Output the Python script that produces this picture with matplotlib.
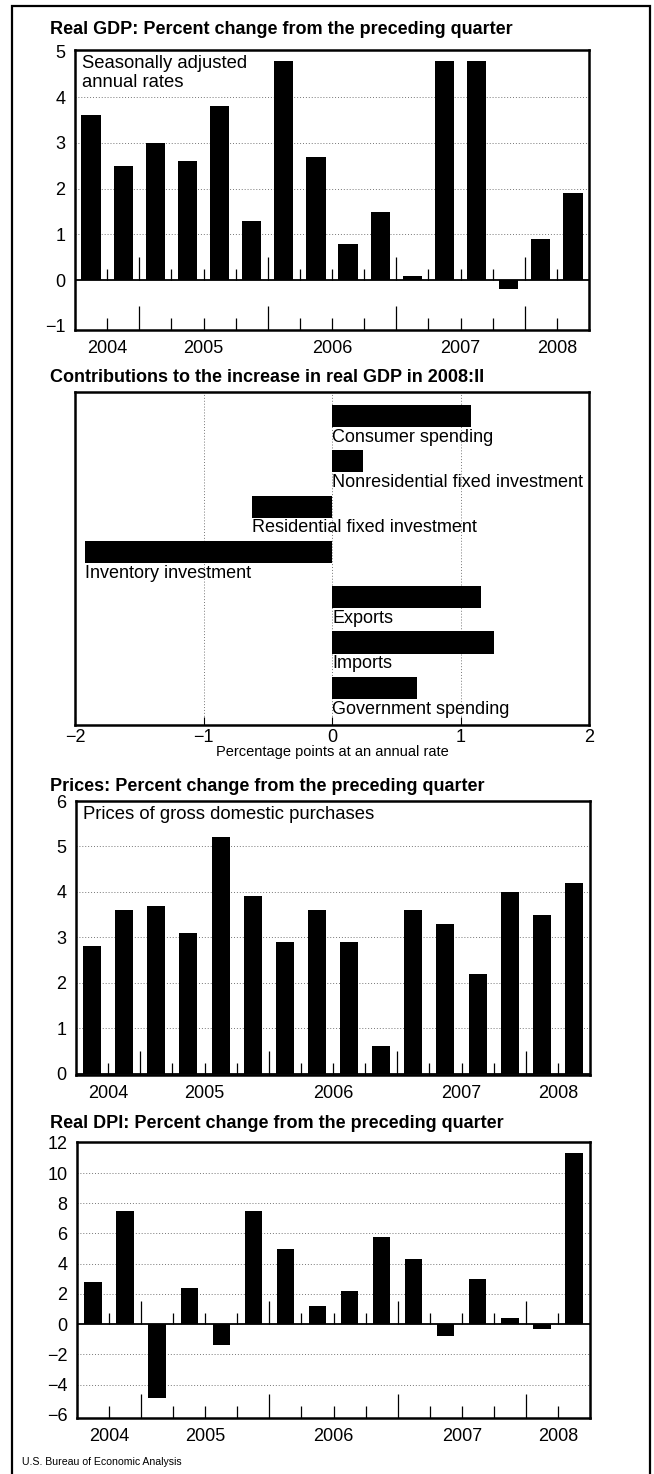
import numpy as np
import matplotlib
matplotlib.use("Agg")
import matplotlib.pyplot as plt
from matplotlib.patches import Rectangle

# quarters shown in the three time-series panels
quarters = ["2004Q3", "2004Q4", "2005Q1", "2005Q2", "2005Q3", "2005Q4",
            "2006Q1", "2006Q2", "2006Q3", "2006Q4", "2007Q1", "2007Q2",
            "2007Q3", "2007Q4", "2008Q1", "2008Q2"]
gdp = [3.6, 2.5, 3.0, 2.6, 3.8, 1.3, 4.8, 2.7, 0.8, 1.5, 0.1, 4.8, 4.8, -0.2, 0.9, 1.9]
prices = [2.8, 3.6, 3.7, 3.1, 5.2, 3.9, 2.9, 3.6, 2.9, 0.6, 3.6, 3.3, 2.2, 4.0, 3.5, 4.2]
dpi = [2.8, 7.5, -4.9, 2.4, -1.4, 7.5, 5.0, 1.2, 2.2, 5.8, 4.3, -0.8, 3.0, 0.4, -0.3, 11.3]

contrib_labels = ["Consumer spending", "Nonresidential fixed investment",
                  "Residential fixed investment", "Inventory investment",
                  "Exports", "Imports", "Government spending"]
contrib = [1.08, 0.24, -0.62, -1.92, 1.16, 1.26, 0.66]

W, H = 654, 1474
plt.rcParams["font.family"] = ["Liberation Sans", "DejaVu Sans"]

fig = plt.figure(figsize=(W / 100, H / 100), dpi=100)


def box(l, t, r, b):
    return [l / W, 1 - b / H, (r - l) / W, (b - t) / H]


def title(x, y, s):
    fig.text(x / W, 1 - y / H, s, fontsize=13, fontweight="bold",
             va="center", ha="left")


# outer frame
fig.patches.append(Rectangle((12 / W, -0.01), 638 / W, 1 - 6 / H + 0.01,
                             transform=fig.transFigure, fill=False,
                             lw=1.6, ec="black"))

years = [q[:4] for q in quarters]
xpos = np.arange(len(quarters))
bounds = xpos[:-1] + 0.5
tall = [years[i] != years[i + 1] for i in range(len(quarters) - 1)]
year_names = sorted(set(years))
year_centers = [xpos[[y == yr for y in years]].mean() for yr in year_names]


def series_panel(rect, vals, ylim, yticks, grid, width, px_per_unit, zero_ticks, note, note_y):
    ax = fig.add_axes(rect)
    ax.bar(xpos, vals, width=width, color="black", zorder=3)
    ax.set_xlim(-0.5, len(quarters) - 0.5)
    ax.set_ylim(*ylim)
    ax.set_yticks(yticks)
    ax.set_yticklabels([str(v).replace("-", "\u2212") for v in yticks])
    for g in grid:
        ax.axhline(g, color="#777777", lw=0.7, ls=(0, (1, 2)), zorder=1)
    short_h, tall_h = 12 / px_per_unit, 24 / px_per_unit
    for b, t in zip(bounds, tall):
        h = tall_h if t else short_h
        ax.vlines(b, ylim[0], ylim[0] + h, color="black", lw=0.9, zorder=2)
        if zero_ticks:
            ax.vlines(b, 0, h * 0.95, color="black", lw=0.9, zorder=2)
    if ylim[0] < 0:
        ax.axhline(0, color="black", lw=1.3, zorder=4)
    ax.set_xticks(year_centers)
    ax.set_xticklabels(year_names)
    ax.tick_params(length=0, labelsize=13, pad=7)
    ax.tick_params(axis="x", pad=7)
    for s in ax.spines.values():
        s.set_linewidth(1.8)
    if note:
        ax.text(0.013, note_y, note, transform=ax.transAxes, fontsize=13.3,
                va="top", ha="left", linespacing=1.15)
    return ax


# Real GDP
title(50, 30, "Real GDP: Percent change from the preceding quarter")
series_panel(box(75, 50, 589, 330), gdp, (-1.09, 5.03), [-1, 0, 1, 2, 3, 4, 5],
             [1, 2, 3, 4], 0.6, 45.7, True,
             "Seasonally adjusted\nannual rates", 0.982)

# Contributions
title(50, 377, "Contributions to the increase in real GDP in 2008:II")
ax2 = fig.add_axes(box(75, 392, 589, 725))
ypos = np.arange(len(contrib))
ax2.barh(ypos, contrib, height=0.49, color="black", zorder=3)
ax2.set_xlim(-2, 2)
ax2.set_ylim(6.82, -0.53)
for g in [-1, 0, 1]:
    ax2.axvline(g, color="#777777", lw=0.7, ls=(0, (1, 2)), zorder=1)
for y, v, lab in zip(ypos, contrib, contrib_labels):
    ax2.text(min(v, 0), y + 0.47, lab, fontsize=13, va="center", ha="left", zorder=4)
ax2.set_yticks([])
ax2.set_xticks([-2, -1, 0, 1, 2])
ax2.set_xticklabels(["\u22122", "\u22121", "0", "1", "2"])
ax2.tick_params(axis="x", direction="in", length=6, labelsize=13, pad=3)
ax2.set_xlabel("Percentage points at an annual rate", fontsize=10.5, labelpad=-1)
for s in ax2.spines.values():
    s.set_linewidth(1.8)

# Prices
title(50, 787, "Prices: Percent change from the preceding quarter")
series_panel(box(76, 801, 590, 1075), prices, (-0.03, 6.0), [0, 1, 2, 3, 4, 5, 6],
             [1, 2, 3, 4, 5], 0.56, 45.5, False,
             "Prices of gross domestic purchases", 0.982)

# Real DPI
title(50, 1123, "Real DPI: Percent change from the preceding quarter")
series_panel(box(77, 1142, 590, 1418), dpi, (-6.2, 12.05),
             [-6, -4, -2, 0, 2, 4, 6, 8, 10, 12],
             [-4, -2, 2, 4, 6, 8, 10], 0.54, 15.1, True, None, 0)

fig.text(22 / W, 1 - 1462 / H, "U.S. Bureau of Economic Analysis", fontsize=7.6,
         va="center", ha="left")

fig.savefig("out.png", dpi=100)
